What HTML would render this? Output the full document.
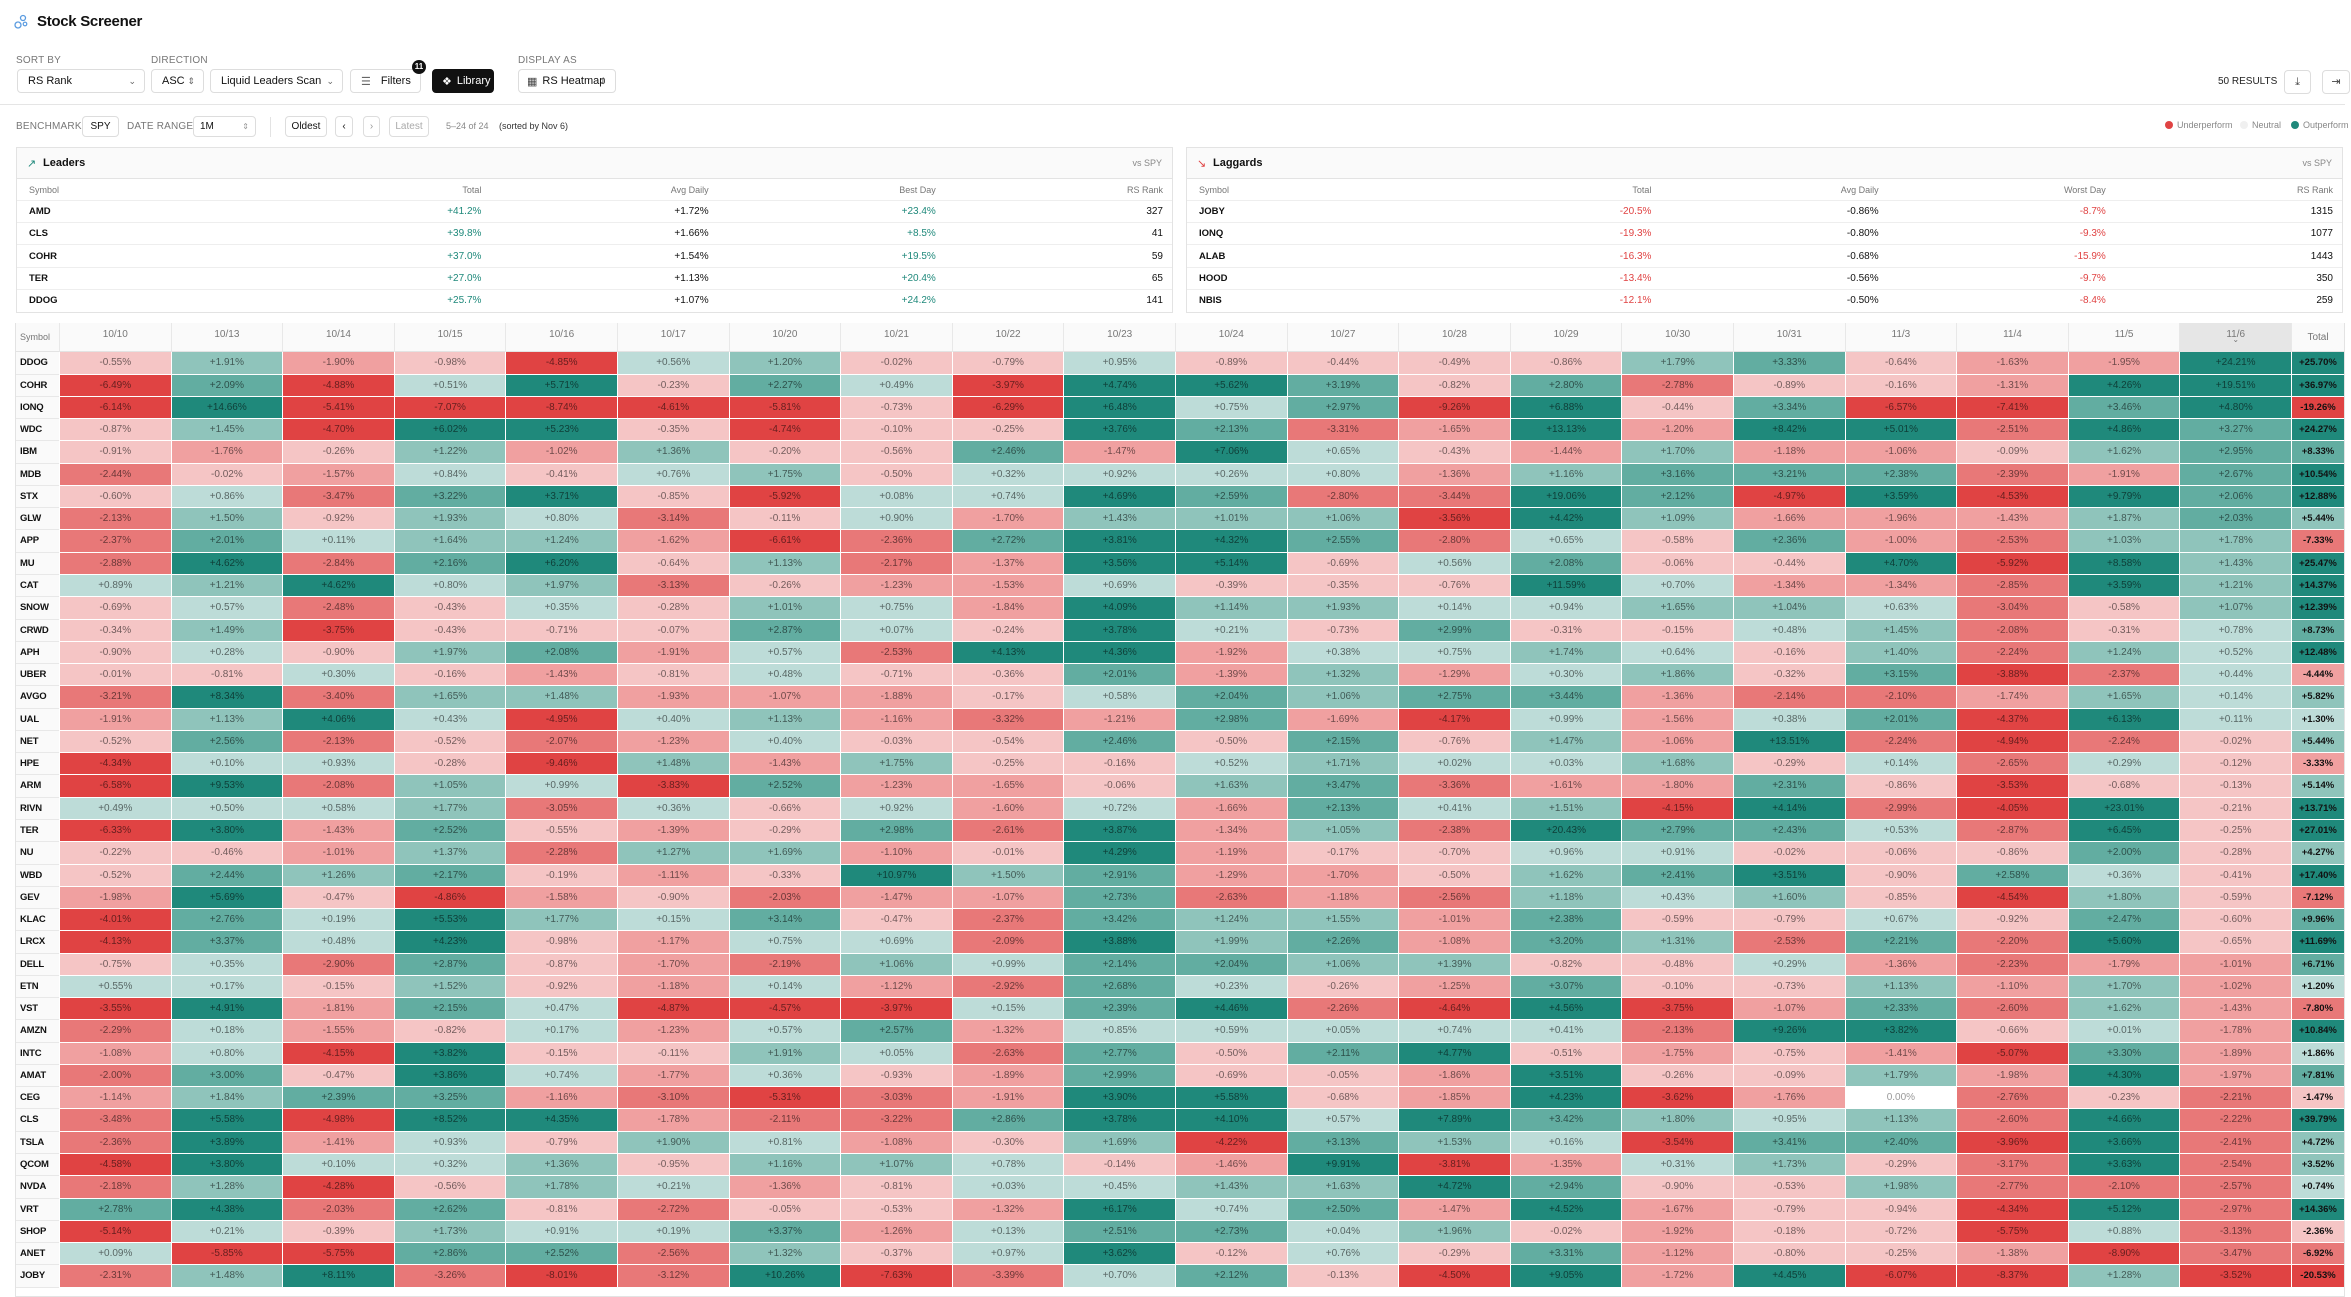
<!DOCTYPE html>
<html><head><meta charset="utf-8">
<style>
*{box-sizing:border-box;margin:0;padding:0}
body{width:2351px;height:1297px;overflow:hidden;background:#fff;font-family:"Liberation Sans",Arial,sans-serif;color:#111;position:relative}
.abs{position:absolute}
.lbl{position:absolute;font-size:10px;color:#777;letter-spacing:0.2px}
.ctl{position:absolute;top:69px;height:24px;border:1px solid #ddd;border-radius:4px;background:#fff;font-size:11px;display:flex;align-items:center;padding-left:10px;color:#111}
.ctl .car{position:absolute;right:8px;font-size:9px;color:#666}
.small{position:absolute;top:116px;height:21px;border:1px solid #ddd;border-radius:4px;background:#fff;font-size:10px;display:flex;align-items:center;justify-content:center;color:#111}
.panel{position:absolute;top:147px;height:166px;border:1px solid #e3e3e3;background:#fff}
.ptitle{position:absolute;left:0;right:0;top:0;height:31px;background:#fafafa;border-bottom:1px solid #e3e3e3;font-size:11px;font-weight:bold}
.prow{position:absolute;left:0;right:0;height:22px;border-bottom:1px solid #eee;font-size:10px}
.prow span{position:absolute;top:0;line-height:22px}
.hcell{position:absolute;font-size:10px;color:#777;text-align:center}
.cell{position:absolute;font-size:10px;text-align:center;color:rgba(0,0,0,0.55)}
</style></head><body>

<div class="abs" style="left:14px;top:14px;width:14px;height:16px">
<svg width="14" height="16" viewBox="0 0 14 16"><circle cx="4" cy="11" r="3" fill="none" stroke="#5a9be0" stroke-width="1.3"/><circle cx="9" cy="4" r="2.5" fill="none" stroke="#5a9be0" stroke-width="1.3"/><circle cx="11" cy="10" r="1.8" fill="none" stroke="#5a9be0" stroke-width="1.2"/></svg></div>
<div class="abs" style="left:37px;top:13px;font-size:15px;font-weight:bold;letter-spacing:-0.3px">Stock Screener</div>

<div class="lbl" style="left:16px;top:55px">SORT BY</div>
<div class="lbl" style="left:151px;top:55px">DIRECTION</div>
<div class="lbl" style="left:518px;top:55px">DISPLAY AS</div>
<div class="ctl" style="left:17px;width:128px">RS Rank<span class="car">⌄</span></div>
<div class="ctl" style="left:151px;width:53px">ASC<span class="car">⇕</span></div>
<div class="ctl" style="left:210px;width:133px">Liquid Leaders Scan<span class="car">⌄</span></div>
<div class="ctl" style="left:350px;width:71px;padding-left:10px"><span style="color:#666;margin-right:10px">☰</span>Filters</div>
<div class="abs" style="left:412px;top:60px;width:14px;height:14px;border-radius:7px;background:#111;color:#fff;font-size:8px;font-weight:bold;text-align:center;line-height:14px">11</div>
<div class="ctl" style="left:432px;width:62px;background:#111;color:#fff;border-color:#111;padding-left:9px"><span style="margin-right:5px">❖</span>Library</div>
<div class="ctl" style="left:518px;width:98px;padding-left:8px"><span style="margin-right:5px;color:#444">▦</span>RS Heatmap<span class="car">⇕</span></div>

<div class="abs" style="left:2218px;top:76px;font-size:10px;color:#222">50 RESULTS</div>
<div class="abs" style="left:2284px;top:70px;width:27px;height:24px;border:1px solid #ddd;border-radius:4px;font-size:11px;text-align:center;line-height:22px;color:#444">⤓</div>
<div class="abs" style="left:2322px;top:70px;width:28px;height:24px;border:1px solid #ddd;border-radius:4px;font-size:11px;text-align:center;line-height:22px;color:#444">⇥</div>

<div class="abs" style="left:0;top:104px;width:2345px;height:1px;background:#e5e5e5"></div>

<div class="lbl" style="left:16px;top:121px;color:#777">BENCHMARK:</div>
<div class="small" style="left:82px;width:37px">SPY</div>
<div class="lbl" style="left:127px;top:121px">DATE RANGE:</div>
<div class="small" style="left:193px;width:63px;justify-content:flex-start;padding-left:6px">1M<span style="position:absolute;right:6px;color:#999;font-size:8px">⇕</span></div>
<div class="abs" style="left:270px;top:117px;width:1px;height:20px;background:#e3e3e3"></div>
<div class="small" style="left:285px;width:42px">Oldest</div>
<div class="small" style="left:335px;width:18px">‹</div>
<div class="small" style="left:363px;width:17px;color:#999">›</div>
<div class="small" style="left:389px;width:40px;color:#aaa">Latest</div>
<div class="abs" style="left:446px;top:121px;font-size:9px;color:#888">5–24 of 24</div>
<div class="abs" style="left:499px;top:121px;font-size:9px;color:#333">(sorted by Nov 6)</div>

<div class="abs" style="left:2165px;top:120px;font-size:9px;color:#888;display:flex;align-items:center"><span style="width:8px;height:8px;border-radius:4px;background:#e04343;margin-right:4px;display:inline-block"></span>Underperform</div>
<div class="abs" style="left:2240px;top:120px;font-size:9px;color:#888;display:flex;align-items:center"><span style="width:8px;height:8px;border-radius:4px;background:#f0f0f0;margin-right:4px;display:inline-block"></span>Neutral</div>
<div class="abs" style="left:2291px;top:120px;font-size:9px;color:#888;display:flex;align-items:center"><span style="width:8px;height:8px;border-radius:4px;background:#1f897b;margin-right:4px;display:inline-block"></span>Outperform</div>

<div class="panel" id="leaders" style="left:16px;width:1157px">
<div class="ptitle"><span style="position:absolute;left:10px;top:9px;color:#1f897b;font-weight:normal">↗</span><span style="position:absolute;left:26px;top:9px">Leaders</span><span style="position:absolute;right:10px;top:10px;font-size:9px;color:#888;font-weight:normal">vs SPY</span></div>
</div>
<div class="panel" id="laggards" style="left:1186px;width:1157px">
<div class="ptitle"><span style="position:absolute;left:10px;top:9px;color:#e04343;font-weight:normal">↘</span><span style="position:absolute;left:26px;top:9px">Laggards</span><span style="position:absolute;right:10px;top:10px;font-size:9px;color:#888;font-weight:normal">vs SPY</span></div>
</div>

<div id="heatmap" style="position:absolute;left:0;top:0"></div>

<script>
// Leaders / laggards data
const leaderSymbols=["AMD","CLS","COHR","TER","DDOG"];
const leaderTotals=["+41.2%","+39.8%","+37.0%","+27.0%","+25.7%"];
const leaderAvg=["+1.72%","+1.66%","+1.54%","+1.13%","+1.07%"];
const leaderBest=["+23.4%","+8.5%","+19.5%","+20.4%","+24.2%"];
const leaderRank=["327","41","59","65","141"];
const laggardSymbols=["JOBY","IONQ","ALAB","HOOD","NBIS"];
const laggardTotals=["-20.5%","-19.3%","-16.3%","-13.4%","-12.1%"];
const laggardAvg=["-0.86%","-0.80%","-0.68%","-0.56%","-0.50%"];
const laggardWorst=["-8.7%","-9.3%","-15.9%","-9.7%","-8.4%"];
const laggardRank=["1315","1077","1443","350","259"];

// Heatmap data
const dates=["10/10","10/13","10/14","10/15","10/16","10/17","10/20","10/21","10/22","10/23","10/24","10/27","10/28","10/29","10/30","10/31","11/3","11/4","11/5","11/6"];
const symbols=["DDOG","COHR","IONQ","WDC","IBM","MDB","STX","GLW","APP","MU","CAT","SNOW","CRWD","APH","UBER","AVGO","UAL","NET","HPE","ARM","RIVN","TER","NU","WBD","GEV","KLAC","LRCX","DELL","ETN","VST","AMZN","INTC","AMAT","CEG","CLS","TSLA","QCOM","NVDA","VRT","SHOP","ANET","JOBY"];
const dailyValues=[
[-0.55,1.91,-1.90,-0.98,-4.85,0.56,1.20,-0.02,-0.79,0.95,-0.89,-0.44,-0.49,-0.86,1.79,3.33,-0.64,-1.63,-1.95,24.21],
[-6.49,2.09,-4.88,0.51,5.71,-0.23,2.27,0.49,-3.97,4.74,5.62,3.19,-0.82,2.80,-2.78,-0.89,-0.16,-1.31,4.26,19.51],
[-6.14,14.66,-5.41,-7.07,-8.74,-4.61,-5.81,-0.73,-6.29,6.48,0.75,2.97,-9.26,6.88,-0.44,3.34,-6.57,-7.41,3.46,4.80],
[-0.87,1.45,-4.70,6.02,5.23,-0.35,-4.74,-0.10,-0.25,3.76,2.13,-3.31,-1.65,13.13,-1.20,8.42,5.01,-2.51,4.86,3.27],
[-0.91,-1.76,-0.26,1.22,-1.02,1.36,-0.20,-0.56,2.46,-1.47,7.06,0.65,-0.43,-1.44,1.70,-1.18,-1.06,-0.09,1.62,2.95],
[-2.44,-0.02,-1.57,0.84,-0.41,0.76,1.75,-0.50,0.32,0.92,0.26,0.80,-1.36,1.16,3.16,3.21,2.38,-2.39,-1.91,2.67],
[-0.60,0.86,-3.47,3.22,3.71,-0.85,-5.92,0.08,0.74,4.69,2.59,-2.80,-3.44,19.06,2.12,-4.97,3.59,-4.53,9.79,2.06],
[-2.13,1.50,-0.92,1.93,0.80,-3.14,-0.11,0.90,-1.70,1.43,1.01,1.06,-3.56,4.42,1.09,-1.66,-1.96,-1.43,1.87,2.03],
[-2.37,2.01,0.11,1.64,1.24,-1.62,-6.61,-2.36,2.72,3.81,4.32,2.55,-2.80,0.65,-0.58,2.36,-1.00,-2.53,1.03,1.78],
[-2.88,4.62,-2.84,2.16,6.20,-0.64,1.13,-2.17,-1.37,3.56,5.14,-0.69,0.56,2.08,-0.06,-0.44,4.70,-5.92,8.58,1.43],
[0.89,1.21,4.62,0.80,1.97,-3.13,-0.26,-1.23,-1.53,0.69,-0.39,-0.35,-0.76,11.59,0.70,-1.34,-1.34,-2.85,3.59,1.21],
[-0.69,0.57,-2.48,-0.43,0.35,-0.28,1.01,0.75,-1.84,4.09,1.14,1.93,0.14,0.94,1.65,1.04,0.63,-3.04,-0.58,1.07],
[-0.34,1.49,-3.75,-0.43,-0.71,-0.07,2.87,0.07,-0.24,3.78,0.21,-0.73,2.99,-0.31,-0.15,0.48,1.45,-2.08,-0.31,0.78],
[-0.90,0.28,-0.90,1.97,2.08,-1.91,0.57,-2.53,4.13,4.36,-1.92,0.38,0.75,1.74,0.64,-0.16,1.40,-2.24,1.24,0.52],
[-0.01,-0.81,0.30,-0.16,-1.43,-0.81,0.48,-0.71,-0.36,2.01,-1.39,1.32,-1.29,0.30,1.86,-0.32,3.15,-3.88,-2.37,0.44],
[-3.21,8.34,-3.40,1.65,1.48,-1.93,-1.07,-1.88,-0.17,0.58,2.04,1.06,2.75,3.44,-1.36,-2.14,-2.10,-1.74,1.65,0.14],
[-1.91,1.13,4.06,0.43,-4.95,0.40,1.13,-1.16,-3.32,-1.21,2.98,-1.69,-4.17,0.99,-1.56,0.38,2.01,-4.37,6.13,0.11],
[-0.52,2.56,-2.13,-0.52,-2.07,-1.23,0.40,-0.03,-0.54,2.46,-0.50,2.15,-0.76,1.47,-1.06,13.51,-2.24,-4.94,-2.24,-0.02],
[-4.34,0.10,0.93,-0.28,-9.46,1.48,-1.43,1.75,-0.25,-0.16,0.52,1.71,0.02,0.03,1.68,-0.29,0.14,-2.65,0.29,-0.12],
[-6.58,9.53,-2.08,1.05,0.99,-3.83,2.52,-1.23,-1.65,-0.06,1.63,3.47,-3.36,-1.61,-1.80,2.31,-0.86,-3.53,-0.68,-0.13],
[0.49,0.50,0.58,1.77,-3.05,0.36,-0.66,0.92,-1.60,0.72,-1.66,2.13,0.41,1.51,-4.15,4.14,-2.99,-4.05,23.01,-0.21],
[-6.33,3.80,-1.43,2.52,-0.55,-1.39,-0.29,2.98,-2.61,3.87,-1.34,1.05,-2.38,20.43,2.79,2.43,0.53,-2.87,6.45,-0.25],
[-0.22,-0.46,-1.01,1.37,-2.28,1.27,1.69,-1.10,-0.01,4.29,-1.19,-0.17,-0.70,0.96,0.91,-0.02,-0.06,-0.86,2.00,-0.28],
[-0.52,2.44,1.26,2.17,-0.19,-1.11,-0.33,10.97,1.50,2.91,-1.29,-1.70,-0.50,1.62,2.41,3.51,-0.90,2.58,0.36,-0.41],
[-1.98,5.69,-0.47,-4.86,-1.58,-0.90,-2.03,-1.47,-1.07,2.73,-2.63,-1.18,-2.56,1.18,0.43,1.60,-0.85,-4.54,1.80,-0.59],
[-4.01,2.76,0.19,5.53,1.77,0.15,3.14,-0.47,-2.37,3.42,1.24,1.55,-1.01,2.38,-0.59,-0.79,0.67,-0.92,2.47,-0.60],
[-4.13,3.37,0.48,4.23,-0.98,-1.17,0.75,0.69,-2.09,3.88,1.99,2.26,-1.08,3.20,1.31,-2.53,2.21,-2.20,5.60,-0.65],
[-0.75,0.35,-2.90,2.87,-0.87,-1.70,-2.19,1.06,0.99,2.14,2.04,1.06,1.39,-0.82,-0.48,0.29,-1.36,-2.23,-1.79,-1.01],
[0.55,0.17,-0.15,1.52,-0.92,-1.18,0.14,-1.12,-2.92,2.68,0.23,-0.26,-1.25,3.07,-0.10,-0.73,1.13,-1.10,1.70,-1.02],
[-3.55,4.91,-1.81,2.15,0.47,-4.87,-4.57,-3.97,0.15,2.39,4.46,-2.26,-4.64,4.56,-3.75,-1.07,2.33,-2.60,1.62,-1.43],
[-2.29,0.18,-1.55,-0.82,0.17,-1.23,0.57,2.57,-1.32,0.85,0.59,0.05,0.74,0.41,-2.13,9.26,3.82,-0.66,0.01,-1.78],
[-1.08,0.80,-4.15,3.82,-0.15,-0.11,1.91,0.05,-2.63,2.77,-0.50,2.11,4.77,-0.51,-1.75,-0.75,-1.41,-5.07,3.30,-1.89],
[-2.00,3.00,-0.47,3.86,0.74,-1.77,0.36,-0.93,-1.89,2.99,-0.69,-0.05,-1.86,3.51,-0.26,-0.09,1.79,-1.98,4.30,-1.97],
[-1.14,1.84,2.39,3.25,-1.16,-3.10,-5.31,-3.03,-1.91,3.90,5.58,-0.68,-1.85,4.23,-3.62,-1.76,0.00,-2.76,-0.23,-2.21],
[-3.48,5.58,-4.98,8.52,4.35,-1.78,-2.11,-3.22,2.86,3.78,4.10,0.57,7.89,3.42,1.80,0.95,1.13,-2.60,4.66,-2.22],
[-2.36,3.89,-1.41,0.93,-0.79,1.90,0.81,-1.08,-0.30,1.69,-4.22,3.13,1.53,0.16,-3.54,3.41,2.40,-3.96,3.66,-2.41],
[-4.58,3.80,0.10,0.32,1.36,-0.95,1.16,1.07,0.78,-0.14,-1.46,9.91,-3.81,-1.35,0.31,1.73,-0.29,-3.17,3.63,-2.54],
[-2.18,1.28,-4.28,-0.56,1.78,0.21,-1.36,-0.81,0.03,0.45,1.43,1.63,4.72,2.94,-0.90,-0.53,1.98,-2.77,-2.10,-2.57],
[2.78,4.38,-2.03,2.62,-0.81,-2.72,-0.05,-0.53,-1.32,6.17,0.74,2.50,-1.47,4.52,-1.67,-0.79,-0.94,-4.34,5.12,-2.97],
[-5.14,0.21,-0.39,1.73,0.91,0.19,3.37,-1.26,0.13,2.51,2.73,0.04,1.96,-0.02,-1.92,-0.18,-0.72,-5.75,0.88,-3.13],
[0.09,-5.85,-5.75,2.86,2.52,-2.56,1.32,-0.37,0.97,3.62,-0.12,0.76,-0.29,3.31,-1.12,-0.80,-0.25,-1.38,-8.90,-3.47],
[-2.31,1.48,8.11,-3.26,-8.01,-3.12,10.26,-7.63,-3.39,0.70,2.12,-0.13,-4.50,9.05,-1.72,4.45,-6.07,-8.37,1.28,-3.52]
];
const totalValues=[25.70,36.97,-19.26,24.27,8.33,10.54,12.88,5.44,-7.33,25.47,14.37,12.39,8.73,12.48,-4.44,5.82,1.30,5.44,-3.33,5.14,13.71,27.01,4.27,17.40,-7.12,9.96,11.69,6.71,1.20,-7.80,10.84,1.86,7.81,-1.47,39.79,4.72,3.52,0.74,14.36,-2.36,-6.92,-20.53];

// layout helpers
const TBL_L=16, SYM_W=43, X0=59, COLW=111.6, TOT_W=53, HEAD_T=323, HEAD_H=29, ROW0=352.3, ROWH=22.27;
const xCol=i=>X0+i*COLW;
const yRow=j=>ROW0+j*ROWH;
const REDS=["#f5c5c5","#f0a0a0","#e87878","#e04343"];
const GREENS=["#bddcd8","#8fc4bb","#62ada1","#1f897b"];
function level(a,s){return a>=3.5*s?3:a>=2*s?2:a>=1*s?1:0;}
function colorFor(v,s){if(v===0)return "#ffffff";const l=level(Math.abs(v),s);return v>0?GREENS[l]:REDS[l];}
function fmt(v){return (v>0?"+":"")+v.toFixed(2)+"%";}
function rightOff(k){return (1157-227.2*(k+1)-12)+'px';}

function panelRows(panel,headers,cols,colored){
  const hdr=document.createElement('div');
  hdr.className='prow';hdr.style.top='31px';
  
  
  headers.forEach((h,k)=>{const s=document.createElement('span');s.textContent=h;s.style.color='#777';s.style.fontSize='9px';
    if(k===0){s.style.left='12px';}else{s.style.right=rightOff(k);}
    hdr.appendChild(s);});
  panel.appendChild(hdr);
  for(let r=0;r<cols[0].length;r++){
    const row=document.createElement('div');row.className='prow';row.style.top=(53+r*22.3)+'px';
    if(r===cols[0].length-1)row.style.borderBottom='none';
    
    
    cols.forEach((c,k)=>{const s=document.createElement('span');s.textContent=c[r];
      if(k===0){s.style.left='12px';s.style.fontWeight='bold';s.style.fontSize='9.5px';}
      else{s.style.right=rightOff(k);}
      if(colored[k])s.style.color=colored[k];
      row.appendChild(s);});
    panel.appendChild(row);
  }
}
panelRows(document.getElementById('leaders'),["Symbol","Total","Avg Daily","Best Day","RS Rank"],[leaderSymbols,leaderTotals,leaderAvg,leaderBest,leaderRank],[null,"#1f897b",null,"#1f897b",null]);
panelRows(document.getElementById('laggards'),["Symbol","Total","Avg Daily","Worst Day","RS Rank"],[laggardSymbols,laggardTotals,laggardAvg,laggardWorst,laggardRank],[null,"#e04343",null,"#e04343",null]);

const hm=document.getElementById('heatmap');
function box(l,t,w,h,bg){const d=document.createElement('div');d.style.position='absolute';d.style.left=l+'px';d.style.top=t+'px';d.style.width=w+'px';d.style.height=h+'px';if(bg)d.style.background=bg;hm.appendChild(d);return d;}
const outer=box(TBL_L-1,HEAD_T,2345-TBL_L+1,1297-HEAD_T,"#fff");
outer.style.border='1px solid #e3e3e3';


const head=box(TBL_L,HEAD_T,2344-TBL_L,HEAD_H,"#fafafa");
head.style.borderBottom='1px solid #e3e3e3';


const symHead=box(TBL_L,HEAD_T,SYM_W,HEAD_H,null);
symHead.className='hcell';symHead.textContent='Symbol';symHead.style.lineHeight=HEAD_H+'px';symHead.style.textAlign='left';symHead.style.paddingLeft='4px';symHead.style.fontSize='9px';


dates.forEach((d,i)=>{
  const h=box(xCol(i),HEAD_T,COLW,HEAD_H,i===dates.length-1?"#e6e6e6":null);
  h.className='hcell';h.style.lineHeight='24px';h.style.borderLeft='1px solid #e8e8e8';
  h.textContent=d;
  if(i===dates.length-1){const a=document.createElement('div');a.textContent='⌄';a.style.position='absolute';a.style.left='0';a.style.right='0';a.style.top='10px';a.style.fontSize='8px';a.style.lineHeight='14px';h.appendChild(a);}
  
  
});
const th=box(xCol(dates.length),HEAD_T,TOT_W,HEAD_H,null);
th.className='hcell';th.textContent='Total';th.style.lineHeight=HEAD_H+'px';th.style.borderLeft='1px solid #e8e8e8';



symbols.forEach((s,j)=>{
  const y=yRow(j);
  const sc=box(TBL_L,y,SYM_W,ROWH,"#fafafa");
  sc.style.borderBottom='1px solid #e8e8e8';
  sc.style.fontSize='9.5px';sc.style.fontWeight='bold';sc.style.paddingLeft='4px';sc.style.lineHeight=(ROWH-1)+'px';sc.style.letterSpacing='-0.2px';
  sc.textContent=s;
  
  
  dailyValues[j].forEach((v,i)=>{
    const c=box(xCol(i)+1,y,COLW-1,ROWH-1,colorFor(v,1));
    c.className='cell';c.style.lineHeight=(ROWH-1)+'px';
    if(v===0)c.style.color='#999';
    c.textContent=fmt(v);
    
    
  });
  const tv=totalValues[j];
  const tc=box(xCol(dates.length)+1,y,TOT_W-1,ROWH-1,colorFor(tv,3));
  tc.className='cell';tc.style.lineHeight=(ROWH-1)+'px';tc.style.color='#111';tc.style.fontWeight='bold';tc.style.fontSize='9.5px';
  tc.textContent=fmt(tv);
  
  
});
</script>
</body></html>
